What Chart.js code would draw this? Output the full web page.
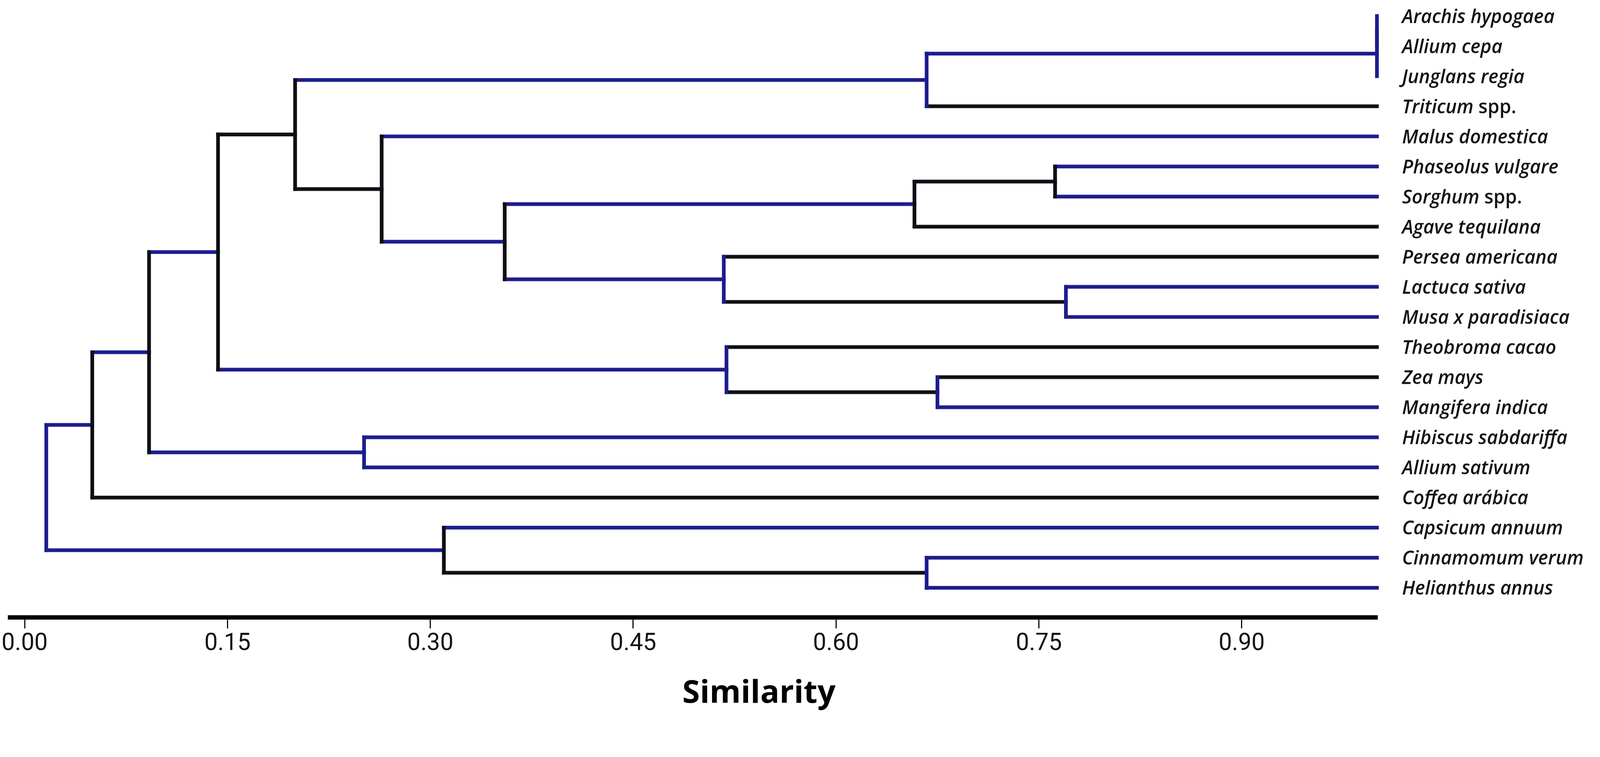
<!DOCTYPE html>
<html>
<head>
<meta charset="utf-8">
<title>Similarity dendrogram</title>
<script src="https://cdn.jsdelivr.net/npm/chart.js@4.4.1/dist/chart.umd.min.js"></script>
<style>
  html, body { margin: 0; padding: 0; background: #fff; overflow: hidden; }
  #wrap { position: relative; }
</style>
</head>
<body>
<div id="wrap"><canvas id="dendro"></canvas></div>
<script>
/* leaves, top to bottom */
const leaves = [
  'Arachis hypogaea', 'Allium cepa', 'Junglans regia', 'Triticum spp.',
  'Malus domestica', 'Phaseolus vulgare', 'Sorghum spp.', 'Agave tequilana',
  'Persea americana', 'Lactuca sativa', 'Musa x paradisiaca', 'Theobroma cacao',
  'Zea mays', 'Mangifera indica', 'Hibiscus sabdariffa', 'Allium sativum',
  'Coffea arábica', 'Capsicum annuum', 'Cinnamomum verum', 'Helianthus annus'
];
const leafSimilarity = 1.0;

/* merges: ids < 20 are leaves, id 20+k is merge k */
const mergeLeft   = [0, 20, 21, 5, 23, 9, 8, 24, 4, 22, 12, 11, 29, 14, 32, 34, 18, 17, 35];
const mergeRight  = [1, 2, 3, 6, 7, 10, 25, 26, 27, 28, 13, 30, 31, 15, 33, 16, 19, 36, 37];
const mergeHeight = [1.0, 1.0, 0.667, 0.762, 0.658, 0.770, 0.517, 0.355, 0.264, 0.200,
                     0.675, 0.519, 0.143, 0.251, 0.092, 0.050, 0.667, 0.310, 0.016];

const tickValues = [0, 0.15, 0.30, 0.45, 0.60, 0.75, 0.90];

/* line colours per merge: vertical, left branch, right branch (b = blue, k = black) */
const vertCol  = ['b','b','b','k','k','b','b','k','k','k','b','b','k','b','k','k','b','k','b'];
const leftCol  = ['b','b','b','b','k','b','k','b','b','b','k','k','k','b','b','b','b','b','b'];
const rightCol = ['b','b','k','b','k','b','k','b','b','k','b','k','b','b','b','k','b','k','b'];
const COLORS = { b: '#1c1c8e', k: '#0e0e14' };

// layout was measured on a 4324 x 1939 picture; scale to the real viewport width
const f = window.innerWidth / 4324;
const px = v => v * f;
const wrap = document.getElementById('wrap');
wrap.style.width = px(4324) + 'px';
wrap.style.height = px(1939) + 'px';

const nLeaf = leaves.length;
function posX(id) { return id < nLeaf ? leafSimilarity : mergeHeight[id - nLeaf]; }
const nodeY = {};
function posY(id) {
  if (id < nLeaf) return id;
  if (nodeY[id] === undefined) {
    const k = id - nLeaf;
    nodeY[id] = (posY(mergeLeft[k]) + posY(mergeRight[k])) / 2;
  }
  return nodeY[id];
}

function seg(x1, y1, x2, y2, c) {
  return {
    data: [{ x: x1, y: y1 }, { x: x2, y: y2 }],
    showLine: true, borderColor: COLORS[c], borderWidth: px(10),
    borderCapStyle: 'square', pointRadius: 0, pointHoverRadius: 0, clip: false
  };
}

const datasets = [];
mergeHeight.forEach((h, k) => {
  const l = mergeLeft[k], r = mergeRight[k];
  const yl = posY(l), yr = posY(r);
  datasets.push(seg(h, yl, h, yr, vertCol[k]));
  if (posX(l) > h) datasets.push(seg(h, yl, posX(l), yl, leftCol[k]));
  if (posX(r) > h) datasets.push(seg(h, yr, posX(r), yr, rightCol[k]));
});

/* leaf names + axis title, placed from the scales */
const labelPlugin = {
  id: 'leafLabels',
  afterDraw(chart) {
    const ctx = chart.ctx, xs = chart.scales.x, ys = chart.scales.y;
    ctx.save();
    ctx.fillStyle = '#111';
    ctx.textBaseline = 'middle';
    ctx.textAlign = 'left';
    const fs = px(51);
    const it = `italic 600 ${fs}px "Open Sans"`, up = `600 ${fs}px "Open Sans"`;
    leaves.forEach((name, i) => {
      const y = ys.getPixelForValue(i) + px(4);
      let x = xs.right + px(66);
      const m = name.match(/^(.*?)( spp\.)$/);
      ctx.font = it;
      if (m) {
        ctx.fillText(m[1], x, y);
        x += ctx.measureText(m[1]).width;
        ctx.font = up;
        ctx.fillText(m[2], x, y);
      } else {
        ctx.fillText(name, x, y);
      }
    });
    ctx.font = `bold ${px(86)}px "Open Sans"`;
    ctx.fillStyle = '#000';
    ctx.textAlign = 'center';
    ctx.textBaseline = 'alphabetic';
    ctx.fillText('Similarity', xs.getPixelForValue(0.543), xs.bottom + px(1899 - 1783));
    ctx.restore();
  }
};

new Chart(document.getElementById('dendro'), {
  type: 'scatter',
  data: { datasets },
  options: {
    responsive: true, maintainAspectRatio: false, animation: false,
    layout: { padding: { left: px(22), right: px(601), top: 0, bottom: px(156) } },
    plugins: { legend: { display: false }, tooltip: { enabled: false } },
    scales: {
      x: {
        type: 'linear', min: -0.0107, max: 1.0005,
        afterBuildTicks: s => { s.ticks = tickValues.map(v => ({ value: v })); },
        grid: { drawOnChartArea: false, drawTicks: true, tickLength: px(30), tickWidth: px(3), tickColor: '#000' },
        border: { display: true, color: '#000', width: px(12) },
        ticks: {
          color: '#111', padding: px(4), maxRotation: 0, autoSkip: false,
          font: { family: '"Liberation Sans Narrow", Roboto, sans-serif', size: px(64) },
          callback: v => Number(v).toFixed(2)
        }
      },
      y: { type: 'linear', reverse: true, min: -0.47, max: 19.98, display: false }
    }
  },
  plugins: [labelPlugin]
});
</script>
</body>
</html>
